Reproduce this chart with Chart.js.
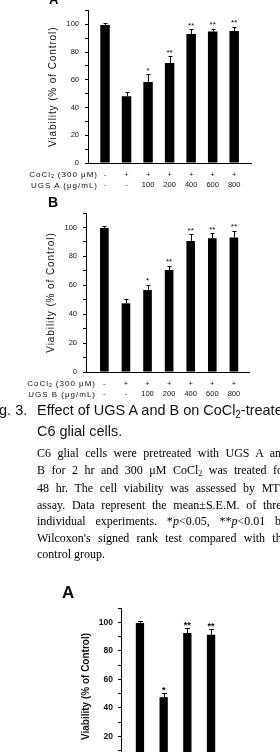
<!DOCTYPE html>
<html><head><meta charset="utf-8">
<script src="https://cdn.jsdelivr.net/npm/chart.js@4.4.1/dist/chart.umd.min.js"></script>
<style>
html,body{margin:0;padding:0;background:#fff;}
body{position:relative;width:280px;height:752px;overflow:hidden;color:#000;}
.abs{position:absolute;white-space:nowrap;}
canvas{position:absolute;left:0;}
.panel{font-family:Arial,'Liberation Sans',sans-serif;font-weight:bold;}
.rowhdr{font-family:'Liberation Sans',Arial,sans-serif;font-size:8px;line-height:9.7px;letter-spacing:1px;text-align:right;left:0;color:#111;}
.rowhdr sub{font-size:5.5px;vertical-align:baseline;position:relative;top:1px;letter-spacing:0.5px;}
.cap{font-family:'Liberation Sans',Arial,sans-serif;font-size:15px;line-height:19px;color:#111;transform:scaleX(0.965);transform-origin:0 0;}
.cap sub{font-size:10px;vertical-align:baseline;position:relative;top:3px;}
.body{font-family:'Liberation Serif','Times New Roman',serif;font-size:12px;line-height:16.5px;left:37px;color:#000;}
.body sub{font-size:8px;vertical-align:baseline;position:relative;top:2px;}
.body .ln{width:250px;text-align:justify;text-align-last:justify;white-space:nowrap;}
.body .last{text-align:left;text-align-last:left;}
</style></head>
<body>
<canvas id="chartA" width="280" height="200" style="top:0px"></canvas>
<canvas id="chartB" width="280" height="210" style="top:195px"></canvas>
<canvas id="chartC" width="280" height="220" style="top:580px"></canvas>

<div class="abs panel" style="left:49px;top:-7px;font-size:13px;line-height:13px;">A</div>
<div class="abs rowhdr" style="top:170px;width:98px;">CoCl<sub>2</sub> (300 μM)<br>UGS A (μg/mL)</div>

<div class="abs panel" style="left:48px;top:195px;font-size:14px;line-height:14px;">B</div>
<div class="abs rowhdr" style="top:379px;width:96px;">CoCl<sub>2</sub> (300 μM)<br>UGS B (μg/mL)</div>

<div class="abs cap" style="left:-13px;top:400px;">Fig. 3.</div>
<div class="abs cap" style="left:37px;top:400px;">Effect of UGS A and B on CoCl<sub>2</sub>-treated<br>C6 glial cells.</div>

<div class="abs body" style="top:445px;">
<div class="ln">C6 glial cells were pretreated with UGS A and</div>
<div class="ln">B for 2 hr and 300 μM CoCl<sub>2</sub> was treated for</div>
<div class="ln">48 hr. The cell viability was assessed by MTT</div>
<div class="ln">assay. Data represent the mean±S.E.M. of three</div>
<div class="ln">individual experiments. *<i>p</i>&lt;0.05, **<i>p</i>&lt;0.01 by</div>
<div class="ln">Wilcoxon's signed rank test compared with the</div>
<div class="ln last">control group.</div>
</div>

<div class="abs panel" style="left:62px;top:584px;font-size:17px;line-height:17px;">A</div>

<script>
// ---- data ----
const cocl2Row   = ['-', '+', '+', '+', '+', '+', '+'];
const ugsDoseRow = ['-', '-', '100', '200', '400', '600', '800'];
const yTickLabels = [0, 20, 40, 60, 80, 100];

const viabilityA = [99.6, 48.1, 58.5, 72.2, 93.0, 94.8, 95.3];
const semA       = [1.5, 2.8, 5.5, 4.8, 3.5, 2.0, 2.8];
const sigA       = ['', '', '*', '**', '**', '**', '**'];

const viabilityB = [99.7, 47.5, 56.7, 70.6, 90.7, 92.5, 93.0];
const semB       = [1.4, 3.0, 3.5, 2.8, 4.6, 3.5, 4.6];
const sigB       = ['', '', '*', '**', '**', '**', '**'];

const viabilityC = [99.5, 47.5, 92.5, 91.3];
const semC       = [1.5, 3.2, 3.5, 4.0];
const sigC       = ['', '*', '**', '**'];

const yTitle = 'Viability (% of Control)';

// ---- plugins ----
function errorBars(sem, sig, cap, starFont, starLift) {
  return {
    id: 'errorBars',
    afterDatasetsDraw(chart) {
      const ctx = chart.ctx, ys = chart.scales.y;
      const meta = chart.getDatasetMeta(0), ds = chart.data.datasets[0];
      ctx.save();
      ctx.letterSpacing = '0px';
      ctx.strokeStyle = '#000'; ctx.fillStyle = '#000'; ctx.lineWidth = 1;
      ctx.font = starFont; ctx.textAlign = 'center'; ctx.textBaseline = 'alphabetic';
      meta.data.forEach((bar, i) => {
        const top = ys.getPixelForValue(ds.data[i].y + sem[i]);
        const x = Math.round(bar.x) + 0.5;
        const t = Math.round(top) + 0.5;
        ctx.beginPath();
        ctx.moveTo(x, bar.y); ctx.lineTo(x, t);
        ctx.moveTo(x - cap, t); ctx.lineTo(x + cap, t);
        ctx.stroke();
        if (sig[i]) ctx.fillText(sig[i], bar.x, top - starLift);
      });
      ctx.restore();
    }
  };
}
function titleSpacing(px) {
  return {
    id: 'titleSpacing',
    beforeDraw(chart) { chart.ctx.letterSpacing = px; },
    beforeDatasetsDraw(chart) { chart.ctx.letterSpacing = '0px'; }
  };
}

function makeChart(id, o) {
  return new Chart(document.getElementById(id), {
    type: 'bar',
    data: {
      datasets: [{
        data: o.values.map((v, i) => ({ x: i, y: v })),
        backgroundColor: '#000', borderWidth: 0,
        categoryPercentage: 1, barPercentage: o.barPct
      }]
    },
    options: {
      responsive: false, maintainAspectRatio: false, animation: false, devicePixelRatio: 1,
      layout: { padding: o.pad },
      plugins: { legend: { display: false }, tooltip: { enabled: false } },
      scales: {
        x: {
          type: 'linear', min: o.xMin, max: o.xMax, offset: false,
          grid: { display: false, drawTicks: false, offset: false },
          border: { display: true, color: '#000', width: 1 },
          afterBuildTicks: s => { s.ticks = o.values.map((v, i) => ({ value: i })); },
          afterFit: s => { s.height = o.xH; },
          ticks: {
            display: !!o.rows, autoSkip: false, maxRotation: 0, minRotation: 0,
            padding: 7, color: '#111', z: 1,
            font: { family: "'Liberation Sans', Arial, sans-serif", size: 7.5, lineHeight: '9.7px' },
            callback: v => o.rows ? [o.rows[0][v], o.rows[1][v]] : ''
          }
        },
        y: {
          min: 0, max: 110,
          afterFit: s => { s.width = o.yW; },
          grid: { display: true, drawOnChartArea: false, drawTicks: true, tickLength: 3, color: '#000', lineWidth: 1 },
          border: { display: true, color: '#000', width: 1 },
          ticks: {
            stepSize: 10, padding: o.tickPad, color: '#111', z: 1,
            font: o.tickFont,
            callback: v => yTickLabels.includes(v) ? String(v) : ''
          },
          title: {
            display: true, text: yTitle, color: '#111',
            font: o.titleFont, padding: { top: o.titlePad, bottom: 0 }
          }
        }
      }
    },
    plugins: o.plugins
  });
}

const thinTick = { family: "'Liberation Sans', Arial, sans-serif", size: 7.5 };
const thinTitle = { family: "'Liberation Sans', Arial, sans-serif", size: 10, lineHeight: 1.2 };

makeChart('chartA', {
  values: viabilityA, rows: [cocl2Row, ugsDoseRow], barPct: 0.44,
  xMin: -0.79, xMax: 6.78, xH: 37, yW: 88,
  pad: { top: 5, right: 29, bottom: 0, left: 0 },
  tickPad: 6, tickFont: thinTick, titleFont: thinTitle, titlePad: 47.5,
  plugins: [titleSpacing('0.9px'), errorBars(semA, sigA, 2, "8px 'Liberation Sans', Arial", 1.5)]
});

makeChart('chartB', {
  values: viabilityB, rows: [cocl2Row, ugsDoseRow], barPct: 0.4,
  xMin: -0.85, xMax: 6.7, xH: 33, yW: 86,
  pad: { top: 18, right: 31, bottom: 0, left: 0 },
  tickPad: 6, tickFont: thinTick, titleFont: thinTitle, titlePad: 45,
  plugins: [titleSpacing('0.9px'), errorBars(semB, sigB, 2, "8px 'Liberation Sans', Arial", 1.5)]
});

makeChart('chartC', {
  values: viabilityC, rows: null, barPct: 0.35,
  xMin: -0.8, xMax: 3.8, xH: 35, yW: 121,
  pad: { top: 28, right: 50, bottom: 0, left: 0 },
  tickPad: 5,
  tickFont: { family: "Arial, 'Liberation Sans', sans-serif", size: 8.5, weight: 'bold' },
  titleFont: { family: "Arial, 'Liberation Sans', sans-serif", size: 10, weight: 'bold', lineHeight: 1.2 },
  titlePad: 80,
  plugins: [errorBars(semC, sigC, 2.5, "bold 9px Arial, 'Liberation Sans'", 0)]
});
</script>
</body></html>
